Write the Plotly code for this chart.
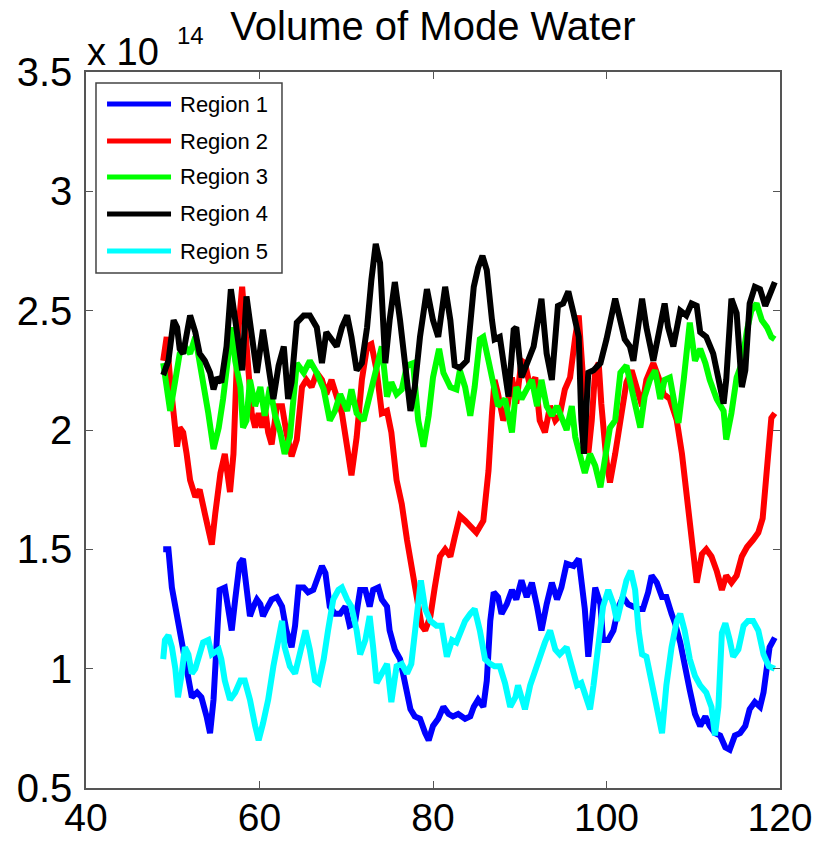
import plotly.graph_objects as go

# Mode-water volume per region, in units of 1e14, against time
region_names = ["Region 1", "Region 2", "Region 3", "Region 4", "Region 5"]
region_colors = ["#0000FF", "#FF0000", "#00FF00", "#000000", "#00FFFF"]

x_region1 = [48.9, 49.5, 49.9, 50.3, 50.6, 51.0, 51.4, 51.8, 52.2, 52.8, 53.3, 53.9, 54.3, 54.7, 55.1, 55.4,
             56.0, 56.4, 56.8, 57.2, 57.7, 58.1, 58.5, 58.9, 59.3, 59.7, 60.1, 60.4, 60.8, 61.4, 62.0, 62.6,
             63.1, 63.7, 64.1, 64.5, 65.1, 65.6, 66.2, 66.8, 67.2, 67.6, 68.1, 68.7, 69.3, 69.9, 70.4, 71.0,
             71.6, 72.2, 72.7, 73.1, 73.7, 74.1, 74.7, 75.0, 75.6, 76.2, 76.8, 77.4, 77.9, 78.5, 79.1, 79.5,
             80.0, 80.6, 81.2, 81.8, 82.3, 82.9, 83.7, 84.3, 84.7, 85.2, 85.8, 86.2, 86.6, 87.0, 87.5, 87.9,
             88.5, 89.1, 89.6, 90.2, 90.8, 91.4, 92.0, 92.5, 93.1, 93.7, 94.3, 94.8, 95.4, 96.2, 96.8, 97.1,
             97.5, 97.9, 98.3, 98.7, 99.3, 99.6, 100.2, 100.8, 101.4, 101.9, 102.5, 103.1, 103.7, 104.2,
             104.8, 105.2, 105.8, 106.4, 106.9, 107.5, 107.9, 108.5, 109.0, 109.6, 110.2, 110.8, 111.4,
             111.9, 112.5, 113.1, 113.7, 114.2, 114.8, 115.4, 116.0, 116.5, 117.1, 117.7, 118.1, 118.5,
             118.8, 119.4]
y_region1 = [1.50, 1.50, 1.34, 1.26, 1.18, 1.13, 1.04, 0.94, 0.88, 0.90, 0.88, 0.80, 0.73, 0.87, 1.09, 1.33,
             1.34, 1.26, 1.16, 1.29, 1.44, 1.46, 1.34, 1.22, 1.26, 1.29, 1.27, 1.22, 1.25, 1.29, 1.30, 1.26,
             1.16, 1.09, 1.18, 1.34, 1.34, 1.32, 1.33, 1.40, 1.43, 1.40, 1.26, 1.23, 1.23, 1.26, 1.18, 1.19,
             1.33, 1.33, 1.26, 1.33, 1.34, 1.29, 1.26, 1.16, 1.08, 1.04, 0.94, 0.83, 0.80, 0.79, 0.73, 0.70,
             0.76, 0.79, 0.84, 0.81, 0.80, 0.81, 0.79, 0.80, 0.84, 0.87, 0.84, 0.95, 1.20, 1.32, 1.30, 1.23,
             1.27, 1.33, 1.29, 1.37, 1.30, 1.36, 1.26, 1.16, 1.27, 1.36, 1.29, 1.34, 1.44, 1.43, 1.46, 1.37,
             1.25, 1.05, 1.18, 1.34, 1.27, 1.12, 1.12, 1.16, 1.26, 1.30, 1.27, 1.26, 1.25, 1.25,
             1.32, 1.39, 1.36, 1.30, 1.30, 1.23, 1.19, 1.11, 1.01, 0.91, 0.81, 0.76, 0.80,
             0.76, 0.73, 0.72, 0.67, 0.66, 0.72, 0.73, 0.76, 0.83, 0.86, 0.84, 0.90, 1.01,
             1.09, 1.13]

x_region2 = [48.9, 49.3, 49.7, 50.1, 50.5, 50.8, 51.2, 51.6, 52.0, 52.6, 53.1, 53.7, 54.3, 54.5, 54.9, 55.5,
             56.0, 56.6, 57.0, 57.5, 58.0, 58.3, 58.7, 59.1, 59.5, 59.9, 60.3, 60.6, 61.0, 61.4, 62.0, 62.6,
             63.1, 63.7, 64.3, 64.9, 65.4, 66.0, 66.6, 67.2, 67.7, 68.3, 68.9, 69.5, 70.1, 70.6, 71.2, 71.8,
             72.4, 72.9, 73.5, 74.1, 74.7, 75.2, 75.8, 76.4, 77.0, 77.4, 78.1, 78.7, 79.1, 79.7, 80.2, 80.8,
             81.4, 82.0, 82.5, 83.1, 83.7, 84.3, 85.0, 85.8, 86.4, 86.8, 87.1, 87.5, 88.1, 88.5, 89.1, 89.6,
             90.2, 90.6, 91.2, 91.8, 92.3, 92.9, 93.5, 94.1, 94.6, 95.2, 95.8, 96.4, 96.8, 97.1, 97.5, 97.9,
             98.3, 98.7, 99.1, 99.4, 100.0, 100.4, 101.0, 101.6, 102.3, 102.9, 103.5, 104.1, 104.6, 105.4,
             106.0, 106.6, 107.3, 108.1, 108.7, 109.2, 109.6, 110.0, 110.4, 111.0, 111.5, 112.1, 112.7,
             113.3, 113.8, 114.4, 115.0, 115.6, 116.2, 116.9, 117.5, 118.0, 118.3, 118.7, 119.0, 119.4]
y_region2 = [2.29, 2.39, 2.21, 2.06, 1.93, 2.01, 1.99, 1.90, 1.79, 1.72, 1.75, 1.65, 1.55, 1.52, 1.65, 1.82,
             1.90, 1.74, 1.90, 2.39, 2.60, 2.46, 2.24, 2.07, 2.01, 2.07, 2.01, 2.10, 1.99, 1.94, 2.10, 2.10,
             1.99, 1.89, 1.96, 2.18, 2.21, 2.18, 2.24, 2.21, 2.15, 2.21, 2.14, 2.07, 1.93, 1.81, 1.97, 2.21,
             2.35, 2.36, 2.25, 2.07, 2.08, 1.99, 1.79, 1.69, 1.54, 1.46, 1.30, 1.18, 1.16, 1.22, 1.34, 1.47,
             1.50, 1.47, 1.55, 1.64, 1.62, 1.60, 1.57, 1.62, 1.83, 2.07, 2.21, 2.15, 2.04, 2.08, 2.22, 2.11,
             2.29, 2.28, 2.18, 2.22, 2.04, 1.99, 2.10, 2.04, 2.06, 2.17, 2.22, 2.39, 2.48, 2.32, 2.10, 1.90,
             2.04, 2.25, 2.28, 2.11, 1.87, 1.78, 1.90, 2.04, 2.20, 2.25, 2.18, 2.10, 2.21, 2.28,
             2.22, 2.15, 2.13, 2.04, 1.90, 1.74, 1.62, 1.50, 1.36, 1.48, 1.50, 1.47, 1.41,
             1.33, 1.39, 1.36, 1.39, 1.47, 1.51, 1.54, 1.57, 1.63, 1.75, 1.90, 2.05, 2.07]

x_region3 = [48.9, 49.3, 49.7, 50.3, 50.8, 51.4, 52.0, 52.6, 53.1, 53.5, 54.1, 54.7, 55.3, 55.8, 56.4, 56.8,
             57.2, 57.8, 58.1, 58.5, 58.9, 59.5, 60.1, 60.6, 61.2, 61.8, 62.4, 62.9, 63.5, 64.3, 65.1, 65.8,
             66.6, 67.4, 68.1, 68.7, 69.3, 70.1, 70.6, 71.2, 72.0, 72.7, 73.5, 74.1, 74.7, 75.2, 75.8, 76.4,
             77.0, 77.7, 78.3, 78.9, 79.5, 80.0, 80.7, 81.2, 82.0, 82.7, 83.1, 83.7, 84.3, 84.8, 85.4, 85.8,
             86.4, 87.0, 87.5, 88.3, 89.1, 89.6, 90.2, 90.8, 91.4, 92.0, 92.5, 93.1, 93.7, 94.3, 94.8, 95.4,
             96.0, 96.4, 96.9, 97.5, 98.1, 98.7, 99.3, 99.8, 100.4, 101.0, 101.6, 102.3, 103.1, 103.9, 104.4,
             105.0, 105.6, 106.2, 106.7, 107.3, 107.9, 108.3, 108.9, 109.6, 110.2, 110.8, 111.4, 111.9,
             112.7, 113.5, 113.8, 114.4, 115.0, 115.6, 116.2, 116.7, 117.3, 117.9, 118.5, 119.0, 119.4]
y_region3 = [2.28, 2.18, 2.08, 2.21, 2.32, 2.35, 2.32, 2.39, 2.29, 2.18, 2.07, 1.92, 2.01, 2.13, 2.32, 2.43,
             2.29, 2.18, 2.01, 2.04, 2.21, 2.10, 2.18, 2.06, 2.18, 2.06, 1.99, 1.90, 1.97, 2.28, 2.24, 2.29,
             2.24, 2.17, 2.04, 2.08, 2.15, 2.08, 2.17, 2.07, 2.04, 2.14, 2.27, 2.35, 2.14, 2.20, 2.15, 2.17,
             2.27, 2.28, 2.04, 1.93, 2.06, 2.22, 2.34, 2.24, 2.18, 2.17, 2.25, 2.18, 2.06, 2.18, 2.38, 2.39,
             2.29, 2.18, 2.10, 2.13, 1.99, 2.18, 2.13, 2.17, 2.21, 2.10, 2.21, 2.10, 2.06, 2.10, 2.06, 2.00,
             2.10, 1.97, 1.90, 1.82, 1.90, 1.85, 1.76, 1.87, 2.01, 2.04, 2.24, 2.27, 2.15, 2.01, 2.14,
             2.21, 2.25, 2.13, 2.21, 2.22, 2.10, 2.03, 2.21, 2.45, 2.29, 2.34, 2.28, 2.21,
             2.13, 2.08, 1.96, 2.07, 2.22, 2.28, 2.42, 2.50, 2.53, 2.46, 2.43, 2.39, 2.38]

x_region4 = [48.9, 49.5, 50.1, 50.5, 50.8, 51.2, 52.0, 52.6, 53.1, 53.7, 54.3, 54.7, 55.1, 55.6, 56.2, 56.7,
             57.4, 58.0, 58.5, 59.1, 59.7, 60.4, 61.0, 61.6, 62.2, 62.8, 63.3, 63.7, 64.3, 65.1, 65.8, 66.6,
             67.2, 67.7, 68.3, 68.9, 69.5, 70.1, 70.6, 71.2, 71.8, 72.4, 72.9, 73.4, 73.9, 74.5, 75.0, 75.6,
             76.2, 76.8, 77.4, 77.9, 78.5, 79.3, 80.0, 80.6, 81.4, 82.0, 82.5, 83.1, 83.9, 84.7, 85.2, 85.7,
             86.2, 86.8, 87.1, 87.7, 88.3, 88.7, 89.3, 89.6, 90.2, 90.8, 91.6, 92.5, 93.1, 93.7, 94.4, 95.0,
             95.6, 96.2, 96.8, 97.1, 97.4, 97.9, 98.5, 99.3, 100.0, 101.0, 101.6, 102.1, 102.7, 103.1, 104.1,
             104.6, 105.4, 106.2, 106.7, 107.1, 107.7, 108.5, 109.2, 109.8, 110.4, 110.8, 111.5, 112.3,
             112.9, 113.5, 113.8, 114.4, 115.0, 115.6, 116.0, 116.5, 117.1, 117.7, 118.3, 118.8, 119.4]
y_region4 = [2.23, 2.29, 2.46, 2.43, 2.34, 2.32, 2.48, 2.41, 2.32, 2.29, 2.24, 2.17, 2.22, 2.20, 2.35, 2.59,
             2.41, 2.25, 2.56, 2.39, 2.24, 2.42, 2.28, 2.13, 2.27, 2.35, 2.13, 2.20, 2.45, 2.48, 2.48, 2.43,
             2.28, 2.41, 2.38, 2.35, 2.43, 2.48, 2.39, 2.25, 2.28, 2.43, 2.63, 2.78, 2.70, 2.28, 2.46, 2.62,
             2.46, 2.29, 2.08, 2.18, 2.39, 2.59, 2.46, 2.39, 2.60, 2.46, 2.27, 2.26, 2.29, 2.60, 2.68, 2.73,
             2.67, 2.46, 2.38, 2.39, 2.25, 2.14, 2.42, 2.43, 2.22, 2.28, 2.35, 2.55, 2.32, 2.21, 2.52, 2.53,
             2.58, 2.49, 2.39, 2.04, 1.90, 2.24, 2.25, 2.28, 2.38, 2.55, 2.46, 2.38, 2.35, 2.29, 2.55,
             2.43, 2.29, 2.46, 2.53, 2.43, 2.35, 2.50, 2.48, 2.53, 2.52, 2.41, 2.39, 2.32,
             2.21, 2.11, 2.21, 2.55, 2.49, 2.18, 2.25, 2.53, 2.60, 2.59, 2.52, 2.56, 2.62]

x_region5 = [48.9, 49.1, 49.5, 49.9, 50.3, 50.6, 51.0, 51.4, 51.8, 52.2, 52.6, 53.0, 53.5, 54.1, 54.5, 55.3,
             55.6, 56.0, 56.6, 57.2, 57.8, 58.3, 58.9, 59.5, 59.9, 60.4, 61.0, 61.6, 62.2, 62.6, 62.9, 63.5,
             64.1, 64.7, 65.3, 65.8, 66.4, 66.8, 67.4, 67.9, 68.5, 69.1, 69.5, 70.1, 70.6, 71.2, 71.6, 72.2,
             72.7, 73.1, 73.5, 74.1, 74.7, 75.2, 75.8, 76.4, 77.0, 77.5, 78.1, 78.6, 79.1, 79.7, 80.4, 81.0,
             81.6, 82.2, 82.7, 83.1, 83.7, 84.3, 84.8, 85.4, 86.0, 86.6, 87.1, 87.7, 88.3, 88.9, 89.5, 89.8,
             90.2, 90.6, 91.2, 91.8, 92.3, 92.9, 93.5, 94.1, 94.6, 95.4, 96.0, 96.6, 97.1, 97.7, 98.1, 98.5,
             99.1, 99.6, 100.2, 100.8, 101.2, 101.7, 102.3, 102.8, 103.3, 103.7, 104.1, 104.6, 105.2, 105.8,
             106.4, 106.9, 107.5, 108.1, 108.5, 109.0, 109.6, 110.2, 110.8, 111.5, 112.1, 112.5, 112.9,
             113.3, 113.7, 114.2, 114.6, 115.2, 115.8, 116.3, 116.9, 117.5, 118.1, 118.7, 119.4]
y_region5 = [1.04, 1.12, 1.14, 1.09, 1.00, 0.88, 0.97, 1.09, 1.06, 0.98, 1.00, 1.06, 1.11, 1.12, 1.06, 1.08,
             1.04, 0.95, 0.87, 0.90, 0.95, 0.95, 0.87, 0.76, 0.70, 0.77, 0.87, 1.01, 1.13, 1.20, 1.09, 1.01,
             0.98, 1.06, 1.16, 1.08, 0.95, 0.94, 1.04, 1.16, 1.29, 1.33, 1.34, 1.29, 1.26, 1.16, 1.06, 1.12,
             1.22, 1.09, 0.94, 0.98, 1.02, 0.86, 1.01, 1.02, 0.98, 1.02, 1.20, 1.37, 1.25, 1.20, 1.18, 1.18,
             1.05, 1.12, 1.11, 1.15, 1.20, 1.23, 1.25, 1.16, 1.04, 1.02, 1.01, 1.01, 0.94, 0.84, 0.88, 0.93,
             0.88, 0.83, 0.93, 1.00, 1.04, 1.11, 1.16, 1.08, 1.06, 1.09, 1.01, 0.93, 0.94, 0.87, 0.83, 0.93,
             1.09, 1.26, 1.33, 1.27, 1.20, 1.27, 1.37, 1.41, 1.33, 1.16, 1.06, 1.05, 0.94, 0.83,
             0.73, 0.93, 1.09, 1.20, 1.23, 1.16, 1.04, 0.97, 0.93, 0.90, 0.84, 0.72, 0.84,
             1.15, 1.19, 1.12, 1.05, 1.08, 1.18, 1.20, 1.20, 1.16, 1.06, 1.01, 1.00]

x_ticks = [40, 60, 80, 100, 120]
y_ticks = [0.5, 1, 1.5, 2, 2.5, 3, 3.5]

series_x = [x_region1, x_region2, x_region3, x_region4, x_region5]
series_y = [y_region1, y_region2, y_region3, y_region4, y_region5]

FONT = "Liberation Sans, Arial, Helvetica, sans-serif"
AXIS_COLOR = "#555555"

fig = go.Figure()
for name, color, xs, ys in zip(region_names, region_colors, series_x, series_y):
    fig.add_trace(go.Scatter(x=xs, y=ys, mode="lines", name=name,
                             line=dict(color=color, width=6), showlegend=False))

axis_common = dict(showline=True, linecolor=AXIS_COLOR, linewidth=1.5, mirror="ticks",
                   ticks="inside", ticklen=7, tickwidth=1.2, tickcolor=AXIS_COLOR,
                   showgrid=False, zeroline=False, automargin=False)

fig.update_xaxes(range=[40, 120], tickvals=x_ticks, ticklabelstandoff=-6,
                 tickfont=dict(family=FONT, size=39, color="black"), **axis_common)
fig.update_yaxes(range=[0.5, 3.5], tickvals=y_ticks, ticklabelstandoff=4,
                 tickfont=dict(family=FONT, size=40, color="black"), **axis_common)

# Boxed legend with long line samples, upper-left inside the axes
leg_x0, leg_x1 = 0.0144, 0.2824
leg_y0, leg_y1 = 0.7193, 0.9846
row_y = [0.9553, 0.9036, 0.8534, 0.8017, 0.7500]
shapes = [dict(type="rect", xref="paper", yref="paper", x0=leg_x0, x1=leg_x1, y0=leg_y0, y1=leg_y1,
               line=dict(color="#444444", width=1.5), fillcolor="white", layer="above")]
annotations = []
for name, color, ry in zip(region_names, region_colors, row_y):
    shapes.append(dict(type="line", xref="paper", yref="paper", x0=0.0303, x1=0.1225, y0=ry, y1=ry,
                       line=dict(color=color, width=5), layer="above"))
    annotations.append(dict(xref="paper", yref="paper", x=0.1326, y=ry, xanchor="left", yanchor="middle",
                            text=name, showarrow=False, font=dict(family=FONT, size=22, color="black")))

# Exponent label for the y axis: "x 10" with a raised "14"
annotations.append(dict(xref="paper", yref="paper", x=-0.002, y=0.996, xanchor="left", yanchor="bottom",
                        text="x 10", showarrow=False,
                        font=dict(family=FONT, size=38, color="black")))
annotations.append(dict(xref="paper", yref="paper", x=0.128, y=1.073, xanchor="left", yanchor="top",
                        text="14", showarrow=False,
                        font=dict(family=FONT, size=24, color="black")))

fig.update_layout(
    width=830, height=847,
    margin=dict(l=86, r=50, t=72, b=59),
    paper_bgcolor="white", plot_bgcolor="white",
    title=dict(text="Volume of Mode Water", x=0.5, xref="paper", xanchor="center",
               y=1 - 26 / 847, yref="container", yanchor="middle",
               font=dict(family=FONT, size=40, color="black")),
    shapes=shapes, annotations=annotations,
    showlegend=False,
)

fig.write_html("out.html")
